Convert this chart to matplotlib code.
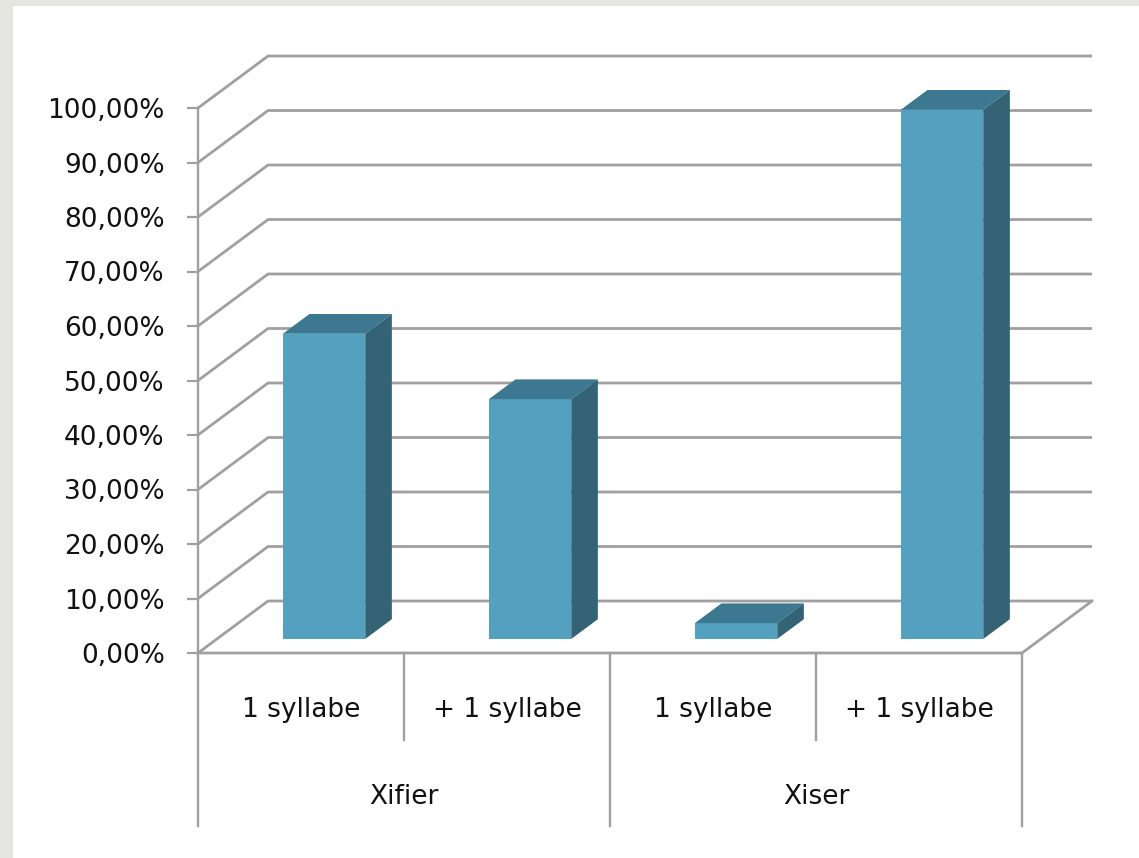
import matplotlib
matplotlib.use("Agg")
import matplotlib.pyplot as plt
from matplotlib.patches import Polygon, Rectangle

# data
groups = ["Xifier", "Xiser"]
subcats = ["1 syllabe", "+ 1 syllabe", "1 syllabe", "+ 1 syllabe"]
values = [56.0, 44.0, 2.9, 97.1]
yticks = [0, 10, 20, 30, 40, 50, 60, 70, 80, 90, 100]
ytick_labels = ["%d,00%%" % t for t in yticks]

# style
FRONT = "#54a0bf"
TOP = "#3c7991"
SIDE = "#336375"
GRID = "#a0a0a0"
FS = 19
DX, DY = 0.34, 9.54          # depth of the pseudo-3D box, in data units
F0, F1 = 0.27, 0.65          # bar front / back depth fraction
W = 0.40                     # bar width

fig = plt.figure(figsize=(11.39, 8.58), dpi=100, facecolor="#e6e6e1")
fig.patches.append(Rectangle((13 / 1139, 0), 1, 852 / 858, transform=fig.transFigure,
                             facecolor="white", edgecolor="none", zorder=-10))

ax = fig.add_axes([198 / 1139, 205 / 858, 824 / 1139, 545 / 858])
ax.set_xlim(0, len(values))
ax.set_ylim(0, 100)
ax.patch.set_visible(False)
for s in ["top", "right", "bottom"]:
    ax.spines[s].set_visible(False)
ax.spines["left"].set_color(GRID)
ax.spines["left"].set_linewidth(1.7)
ax.set_xticks([])
ax.set_yticks(yticks)
ax.set_yticklabels(ytick_labels, fontsize=FS, family="DejaVu Sans", color="#111111")
ax.tick_params(axis="y", direction="out", length=8, width=1.6, color=GRID, pad=16)

# back wall gridlines
for t in yticks:
    ax.plot([0, DX, len(values) + DX], [t, t + DY, t + DY], color=GRID, lw=2.0,
            clip_on=False, zorder=1, solid_capstyle="butt")
# floor
ax.plot([0, len(values), len(values) + DX], [0, 0, DY], color=GRID, lw=2.0,
        clip_on=False, zorder=1)

# bars
d = F1 - F0
for i, v in enumerate(values):
    x0 = i + 0.5 - W / 2 + F0 * DX + 0.02
    x1 = x0 + W
    yb = F0 * DY
    yt = yb + v
    ax.add_patch(Rectangle((x0, yb), W, v, facecolor=FRONT, edgecolor="none",
                           zorder=3, clip_on=False))
    ax.add_patch(Polygon([(x0, yt), (x1, yt), (x1 + d * DX, yt + d * DY),
                          (x0 + d * DX, yt + d * DY)], closed=True,
                         facecolor=TOP, edgecolor="none", zorder=3, clip_on=False))
    ax.add_patch(Polygon([(x1, yb), (x1, yt), (x1 + d * DX, yt + d * DY),
                          (x1 + d * DX, yb + d * DY)], closed=True,
                         facecolor=SIDE, edgecolor="none", zorder=3, clip_on=False))

# category axis (two levels)
n_sub = len(subcats) // len(groups)
for i in range(len(subcats) + 1):
    low = -31.7 if i % n_sub == 0 else -16.0
    ax.plot([i, i], [0, low], color=GRID, lw=1.7, clip_on=False)
for i, lab in enumerate(subcats):
    ax.text(i + 0.5, -10.5, lab, ha="center", va="center", fontsize=FS,
            color="#111111", clip_on=False)
for g, lab in enumerate(groups):
    ax.text(g * n_sub + n_sub / 2, -26.4, lab, ha="center", va="center",
            fontsize=FS, color="#111111", clip_on=False)

fig.savefig("out.png", dpi=100, facecolor=fig.get_facecolor())
